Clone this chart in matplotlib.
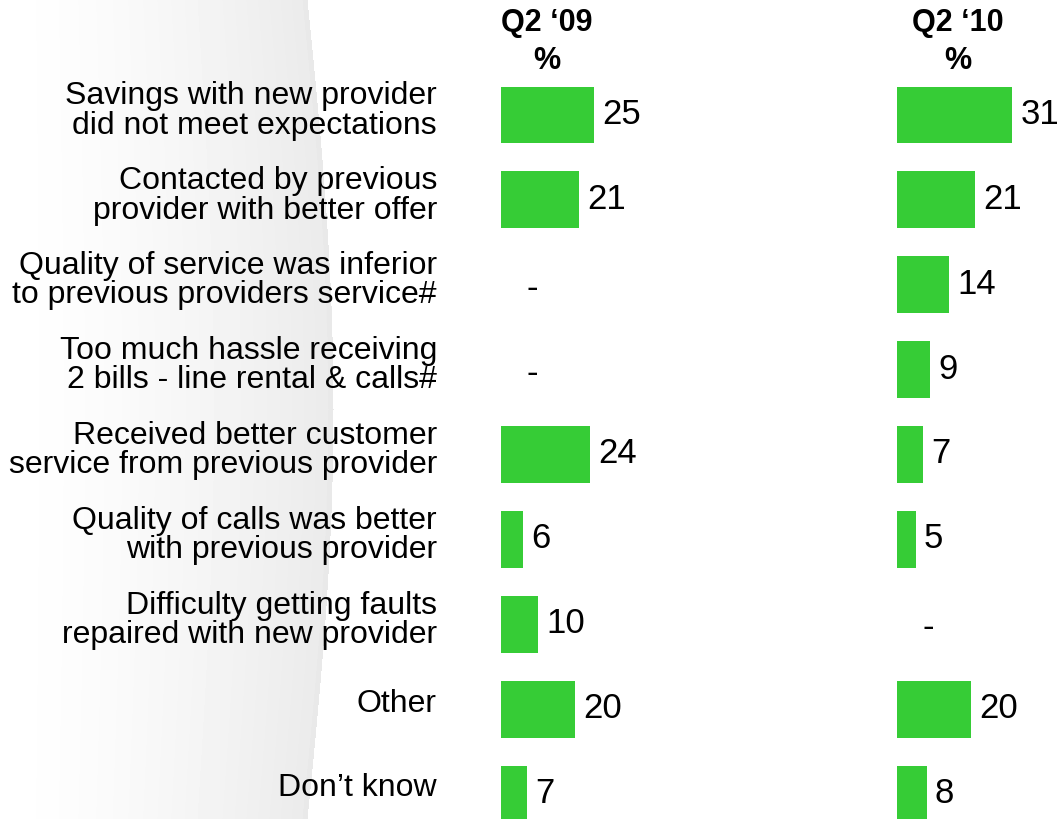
import numpy as np
import matplotlib
matplotlib.use("Agg")
import matplotlib.pyplot as plt

plt.rcParams['font.family'] = ['Liberation Sans', 'DejaVu Sans']

categories = [
    "Savings with new provider\ndid not meet expectations",
    "Contacted by previous\nprovider with better offer",
    "Quality of service was inferior\nto previous providers service#",
    "Too much hassle receiving\n2 bills - line rental & calls#",
    "Received better customer\nservice from previous provider",
    "Quality of calls was better\nwith previous provider",
    "Difficulty getting faults\nrepaired with new provider",
    "Other",
    "Don\u2019t know",
]
q2_09 = [25, 21, None, None, 24, 6, 10, 20, 7]
q2_10 = [31, 21, 14, 9, 7, 5, None, 20, 8]
headers = ["Q2 \u201809", "Q2 \u201810"]

GREEN = "#36cc36"
W, H = 1062, 820
PX = 3.72          # pixels per percentage point
ROW0, ROWH = 116, 84.9

fig = plt.figure(figsize=(W / 100, H / 100), dpi=100)

# faint grey swoosh in the background
bg = fig.add_axes([0, 0, 1, 1], zorder=-5)
yy, xx = np.mgrid[0:H, 0:W]
edge = 307 + 26 * np.sin(np.pi * yy / H)
t = np.clip(xx / edge, 0, 1)
val = 1 - 0.08 * t ** 1.4
val[xx > edge] = 1.0
band = (xx > edge - 5) & (xx <= edge)
val[band] -= 0.008
bg.imshow(val, cmap="gray", vmin=0, vmax=1, aspect="auto", interpolation="bilinear")
bg.axis("off")

ylim = ((H - ROW0) / ROWH, -ROW0 / ROWH)
cols = [(501, 380, q2_09, 547), (897, 165, q2_10, 958)]
rows = np.arange(len(categories))

axes = []
for (left, width, vals, hx), head in zip(cols, headers):
    ax = fig.add_axes([left / W, 0, width / W, 1])
    ax.set_xlim(0, width / PX)
    ax.set_ylim(*ylim)
    ax.axis("off")
    for r, v in zip(rows, vals):
        if v is None:
            ax.text(31 / PX, r + 0.03, "-", ha="center", va="center", fontsize=25)
        else:
            ax.barh(r, v, height=0.67, color=GREEN)
            ax.text(v + 8 / PX, r - 0.02, str(v), ha="left", va="center", fontsize=25)
    hxd = (hx - left) / PX
    ax.text(hxd, (23 - ROW0) / ROWH, head, ha="center", va="center",
            fontsize=22, fontweight="bold", clip_on=False)
    ax.text(hxd, (61 - ROW0) / ROWH, "%", ha="center", va="center",
            fontsize=22, fontweight="bold", clip_on=False)
    axes.append(ax)

ax1 = axes[0]
for r, lab in zip(rows, categories):
    off = -0.08 if "\n" not in lab else -0.06
    ax1.text(-64 / PX, r + off, lab, ha="right", va="center", fontsize=23,
             multialignment="right", linespacing=0.98, clip_on=False)

fig.savefig("out.png", dpi=100)
